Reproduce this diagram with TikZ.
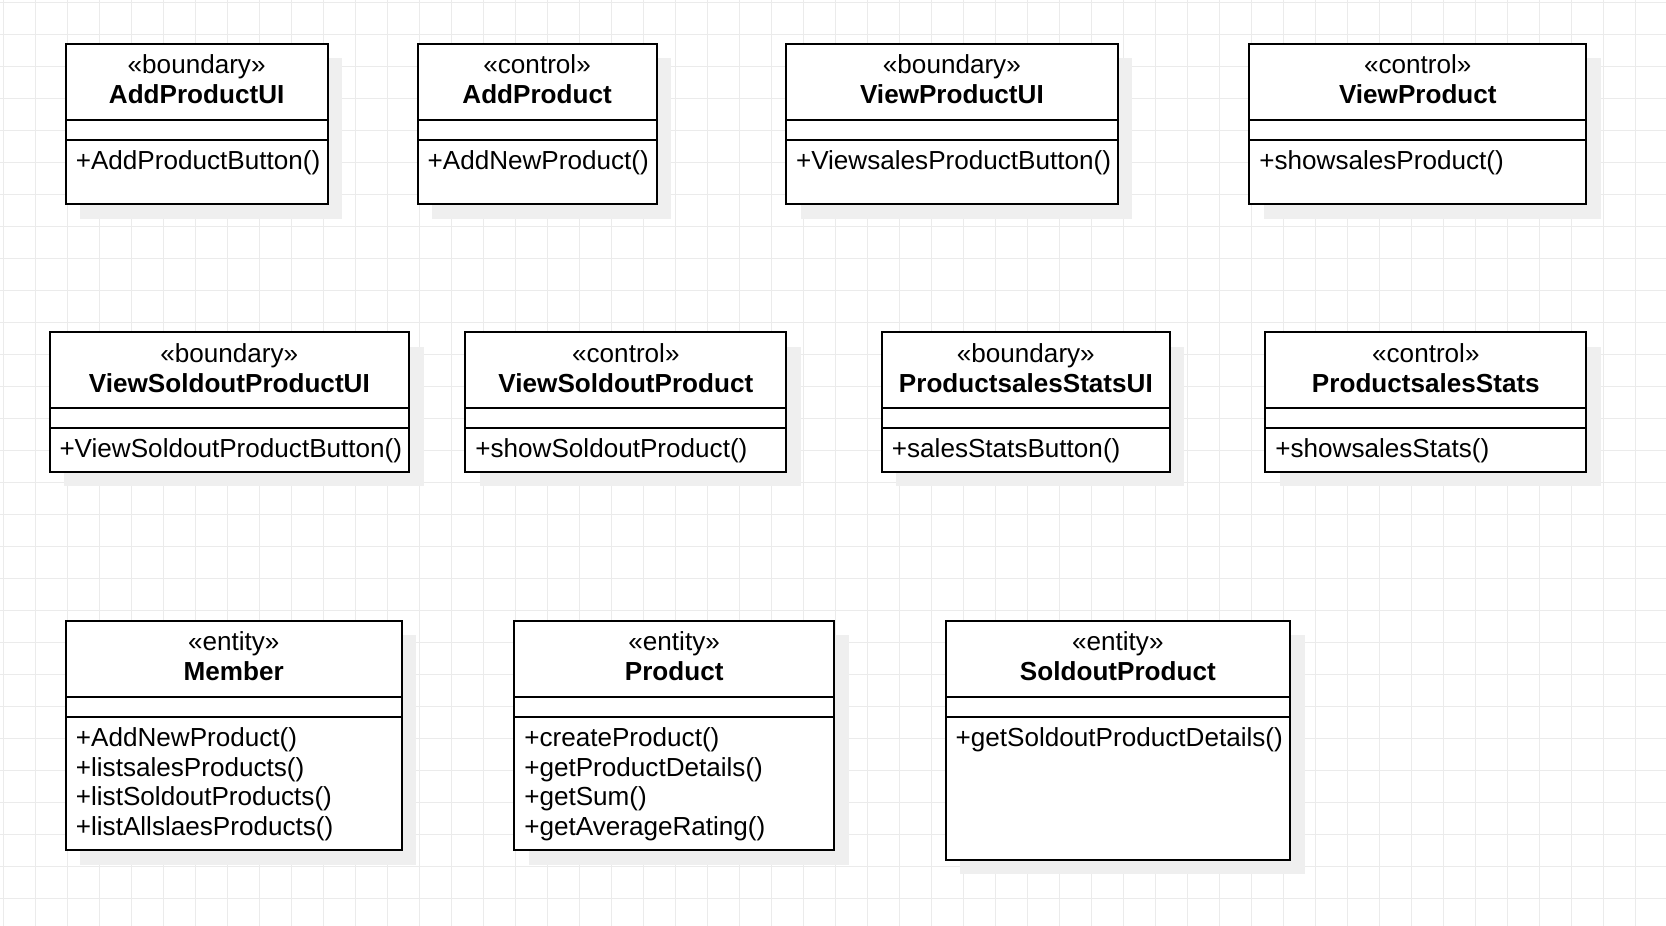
\documentclass[tikz,border=0pt]{standalone}
\usepackage{fontspec}
\setmainfont{Liberation Sans}
\usetikzlibrary{calc}
\definecolor{gridgray}{HTML}{EBEBEB}
\definecolor{shadowgray}{HTML}{EFEFEF}
\tikzset{
  gridline/.style={draw=gridgray, line width=1pt},
  shadowfill/.style={fill=shadowgray},
  classbox/.style={draw=black, fill=white, line width=2pt, rectangle, inner sep=0pt, outer sep=0pt},
  classline/.style={draw=black, line width=2pt},
  umltext/.style={inner sep=0pt, outer sep=0pt, font=\fontsize{26.1}{29.75}\selectfont},
  stereotext/.style={umltext, anchor=base},
  nametext/.style={umltext, anchor=base, font=\fontsize{26.1}{29.75}\selectfont\bfseries},
  methodtext/.style={umltext, anchor=base west},
}
% #1 name, #2 left, #3 top, #4 right, #5 bottom, #6 stereotype, #7 class name, #8 operations
\newcommand{\umlclass}[8]{%
  \fill[shadowfill] (#2+14.5,#3+14.5) rectangle (#4+14.5,#5+14.5);
  \node[classbox, minimum width={#4-#2}, minimum height={#5-#3}] (#1) at ({(#2+#4)/2},{(#3+#5)/2}) {};
  \draw[classline] ($(#1.north west)+(0,76)$) -- ($(#1.north east)+(0,76)$);
  \draw[classline] ($(#1.north west)+(0,96)$) -- ($(#1.north east)+(0,96)$);
  \node[stereotext] (#1-st) at ($(#1.north)+(0,30)$) {«#6»};
  \node[nametext] (#1-nm) at ($(#1.north)+(0,60)$) {#7};
  \foreach \m [count=\k from 0] in {#8}
    \node[methodtext] (#1-m\k) at ($(#1.north west)+(10,125.8+29.75*\k)$) {\m};
}
\begin{document}
\begin{tikzpicture}[x=1pt,y=-1pt]
\useasboundingbox (0,0) rectangle (1666,926);
\fill[white] (0,0) rectangle (1666,926);
% background grid
\foreach \i in {0,...,52} \draw[gridline] (3+32*\i,0) -- (3+32*\i,926);
\foreach \j in {0,...,29} \draw[gridline] (0,2+32*\j) -- (1666,2+32*\j);

% first row
\umlclass{apui}{65.8}{43.5}{327.5}{204}{boundary}{AddProductUI}{+AddProductButton()}
\umlclass{ap}{417.6}{43.5}{656.6}{204}{control}{AddProduct}{+AddNewProduct()}
\umlclass{vpui}{786}{43.5}{1117.8}{204}{boundary}{ViewProductUI}{+ViewsalesProductButton()}
\umlclass{vp}{1249.4}{43.5}{1586.2}{204}{control}{ViewProduct}{+showsalesProduct()}

% second row
\umlclass{vsui}{49.5}{332}{409.2}{471.8}{boundary}{ViewSoldoutProductUI}{+ViewSoldoutProductButton()}
\umlclass{vs}{465.4}{332}{786.3}{471.8}{control}{ViewSoldoutProduct}{+showSoldoutProduct()}
\umlclass{psui}{881.9}{332}{1169.8}{471.8}{boundary}{ProductsalesStatsUI}{+salesStatsButton()}
\umlclass{ps}{1265.4}{332}{1586.3}{471.8}{control}{ProductsalesStats}{+showsalesStats()}

% entities
\umlclass{mem}{65.9}{620.5}{401.6}{850}{entity}{Member}{+AddNewProduct(),+listsalesProducts(),+listSoldoutProducts(),+listAllslaesProducts()}
\umlclass{prod}{514.3}{620.5}{834}{850}{entity}{Product}{+createProduct(),+getProductDetails(),+getSum(),+getAverageRating()}
\umlclass{sop}{945.7}{620.5}{1290}{859.8}{entity}{SoldoutProduct}{+getSoldoutProductDetails()}
\end{tikzpicture}
\end{document}
